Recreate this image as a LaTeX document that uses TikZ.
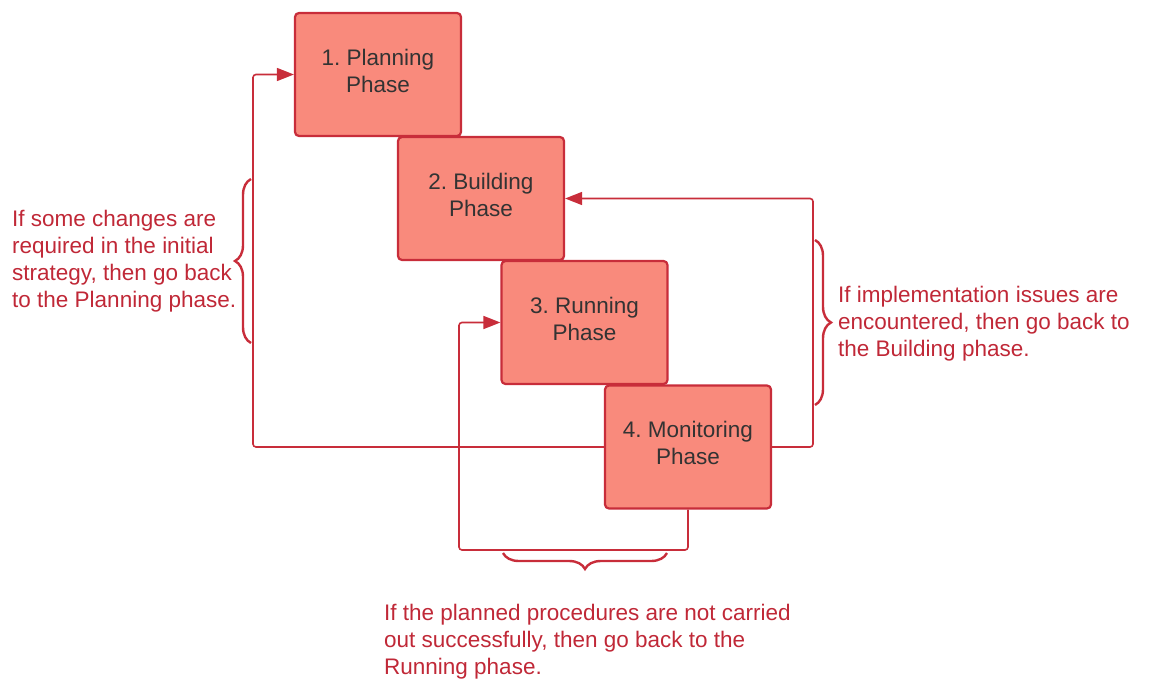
\documentclass[tikz,border=0pt]{standalone}
\usepackage{fontspec}
\setmainfont{Liberation Sans}
\usetikzlibrary{arrows.meta,decorations.pathreplacing}
\definecolor{boxfill}{RGB}{249,138,124}
\definecolor{boxline}{RGB}{200,45,58}
\definecolor{txtred}{RGB}{192,40,55}
\definecolor{txtdark}{RGB}{51,51,51}
\frenchspacing
\newcommand{\lowpad}{\rule[-8pt]{0pt}{0pt}}
\tikzset{
  phase/.style={draw=boxline, fill=boxfill, line width=2.2pt, rounded corners=4pt,
    minimum width=166pt, minimum height=123pt, inner sep=0pt, align=center,
    text=txtdark, font=\fontsize{22.5pt}{27pt}\selectfont},
  link/.style={draw=boxline, line width=1.6pt, rounded corners=3pt},
  linkarrow/.style={link, -{Triangle[length=17pt,width=13pt]}},
  note/.style={text=txtred, align=left, anchor=north west, inner sep=0pt,
    font=\fontsize{22.5pt}{27pt}\selectfont},
  bracestyle/.style={draw=boxline, line width=2.4pt,
    decorate, decoration={brace, amplitude=16pt}},
}
\begin{document}
\begin{tikzpicture}[x=1pt,y=-1pt]
\useasboundingbox (0,0) rectangle (1149,682);
\node[phase] (b1) at (378,74.5) {1. Planning\\Phase\lowpad};
\node[phase] (b2) at (481,198.5) {2. Building\\Phase\lowpad};
\node[phase] (b3) at (584.5,322.5) {3. Running\\Phase\lowpad};
\node[phase] (b4) at (688,447) {4. Monitoring\\Phase\lowpad};
\coordinate (lx) at (253,0);
\coordinate (rx) at (813,0);
\coordinate (by) at (0,550);
\coordinate (bx) at (459,0);
\draw[linkarrow] (b4.west) -- (b4.west -| lx) |- (b1.west);
\draw[linkarrow] (b4.east) -- (b4.east -| rx) |- (b2.east);
\draw[linkarrow] (b4.south) -- (b4.south |- by) -| (bx |- b3.west) -- (b3.west);
\draw[bracestyle] (251,343) -- (251,179);
\draw[bracestyle] (815,240) -- (815,405);
\draw[bracestyle] (667,553) -- (503,553);
\node[note] (t1) at (12,210) {If some changes are\\required in the initial\\strategy, then go back\\to the Planning phase.};
\node[note] (t2) at (838,286) {If implementation issues are\\encountered, then go back to\\the Building phase.};
\node[note] (t3) at (384,604) {If the planned procedures are not carried\\out successfully, then go back to the\\Running phase.};
\end{tikzpicture}
\end{document}
